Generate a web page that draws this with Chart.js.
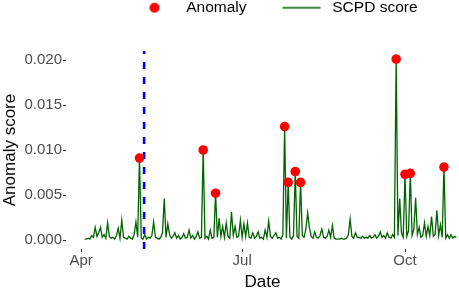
<!DOCTYPE html>
<html>
<head>
<meta charset="utf-8">
<script src="https://cdn.jsdelivr.net/npm/chart.js@4.4.1/dist/chart.umd.min.js"></script>
<style>
  html, body { margin: 0; padding: 0; background: #ffffff; }
  #wrap { width: 459px; height: 288px; position: relative; }
</style>
</head>
<body>
<div id="wrap"><canvas id="chart_anomalyScore"></canvas></div>
<script>
// days are counted from this date on the x axis
var origin = '2020-04-01';

// SCPD score, one value per day starting at scoreStart
var scoreStart = '2020-04-03';
var scoreValues = [
  0.0001, 0.0001, 0.0002, 0.0001, 0.0005, 0.0003, 0.0014, 0.0004, 0.0008, 0.0014,
  0.0003, 0.0006, 0.0002, 0.0019, 0.0004, 0.0002, 0.0003, 0.0001, 0.0005, 0.0013,
  0.0002, 0.0022, 0.0003, 0.0002, 0.0001, 0.0004, 0.0002, 0.0001, 0.0006, 0.0020,
  0.0003, 0.0091, 0.0002, 0.0001, 0.0006, 0.0001, 0.0003, 0.0002, 0.0005, 0.0020,
  0.0003, 0.0002, 0.0001, 0.0003, 0.0008, 0.0046, 0.0003, 0.0018, 0.0006, 0.0002,
  0.0004, 0.0008, 0.0002, 0.0005, 0.0001, 0.0003, 0.0007, 0.0002, 0.0003, 0.0011,
  0.0002, 0.0005, 0.0001, 0.0004, 0.0009, 0.0002, 0.0003, 0.0100, 0.0002, 0.0004,
  0.0001, 0.0011, 0.0002, 0.0003, 0.0052, 0.0003, 0.0024, 0.0004, 0.0015, 0.0003,
  0.0019, 0.0004, 0.0002, 0.0031, 0.0005, 0.0015, 0.0003, 0.0004, 0.0022, 0.0003,
  0.0018, 0.0004, 0.0019, 0.0003, 0.0002, 0.0008, 0.0002, 0.0004, 0.0009, 0.0002,
  0.0003, 0.0001, 0.0011, 0.0003, 0.0021, 0.0004, 0.0002, 0.0005, 0.0008, 0.0002,
  0.0003, 0.0001, 0.0006, 0.0126, 0.0002, 0.0064, 0.0003, 0.0001, 0.0005, 0.0076,
  0.0004, 0.0002, 0.0064, 0.0005, 0.0003, 0.0012, 0.0030, 0.0014, 0.0004, 0.0002,
  0.0009, 0.0003, 0.0002, 0.0005, 0.0012, 0.0003, 0.0002, 0.0004, 0.0011, 0.0003,
  0.0016, 0.0002, 0.0001, 0.0001, 0.0001, 0.0002, 0.0001, 0.0001, 0.0002, 0.0006,
  0.0023, 0.0004, 0.0002, 0.0008, 0.0003, 0.0003, 0.0002, 0.0004, 0.0002, 0.0003,
  0.0002, 0.0005, 0.0002, 0.0003, 0.0006, 0.0002, 0.0004, 0.0009, 0.0003, 0.0005,
  0.0002, 0.0008, 0.0003, 0.0002, 0.0006, 0.0003, 0.0201, 0.0005, 0.0046, 0.0008,
  0.0003, 0.0073, 0.0004, 0.0010, 0.0074, 0.0005, 0.0012, 0.0047, 0.0006, 0.0014,
  0.0003, 0.0005, 0.0019, 0.0004, 0.0015, 0.0005, 0.0026, 0.0004, 0.0006, 0.0033,
  0.0005, 0.0017, 0.0003, 0.0081, 0.0002, 0.0006, 0.0002, 0.0006, 0.0002, 0.0004,
  0.0003
];

// flagged anomalies
var anomalyDates = ['2020-05-04', '2020-06-09', '2020-06-16', '2020-07-25', '2020-07-27',
  '2020-07-31', '2020-08-03', '2020-09-26', '2020-10-01', '2020-10-04', '2020-10-23'];
var anomalyValues = [0.0091, 0.0100, 0.0052, 0.0126, 0.0064,
  0.0076, 0.0064, 0.0201, 0.0073, 0.0074, 0.0081];

// dashed cut-off line
var cutoffDate = '2020-05-06T15:00:00Z';

var tickDates = ['2020-04-01', '2020-07-01', '2020-10-01'];
var tickLabels = ['Apr', 'Jul', 'Oct'];
var yTicks = [0, 0.005, 0.010, 0.015, 0.020];
var xRange = [-8.5, 213.5];
var yRange = [-0.001, 0.021];

function dayOf(s) {
  return (Date.parse(s) - Date.parse(origin)) / 86400000;
}

var startDay = dayOf(scoreStart);
var scorePoints = scoreValues.map(function(v, i) { return {x: startDay + i, y: v}; });
var anomalyPoints = anomalyDates.map(function(d, i) { return {x: dayOf(d), y: anomalyValues[i]}; });
var cutoffPoints = [{x: dayOf(cutoffDate), y: yRange[0]}, {x: dayOf(cutoffDate), y: yRange[1]}];
var tickDays = tickDates.map(dayOf);

var FONT = '"Liberation Sans", Arial, sans-serif';

// legend keys: drawn off centre so the key sits where ggplot puts it
function legendIcon(kind) {
  var c = document.createElement('canvas');
  c.width = 80; c.height = 14;
  var g = c.getContext('2d');
  if (kind === 'dot') {
    g.fillStyle = '#ff0000';
    g.beginPath(); g.arc(40 + 15, 7, 5, 0, Math.PI * 2); g.fill();
  } else {
    g.strokeStyle = '#006400'; g.lineWidth = 1.3;
    g.beginPath(); g.moveTo(40 + 16 - 19, 7); g.lineTo(40 + 16 + 19, 7); g.stroke();
  }
  return c;
}
var dotIcon = legendIcon('dot');
var lineIcon = legendIcon('line');

var chart_anomalyScore = new Chart(document.getElementById('chart_anomalyScore'), {
  type: 'line',
  data: {
    datasets: [
      {
        type: 'scatter',
        label: 'Anomaly',
        data: anomalyPoints,
        pointRadius: 4.8,
        pointHoverRadius: 4.8,
        backgroundColor: '#ff0000',
        pointBorderWidth: 0,
        borderWidth: 0
      },
      {
        label: 'cutoff',
        data: cutoffPoints,
        borderColor: '#0000ff',
        borderWidth: 2.6,
        borderDash: [7, 8],
        pointRadius: 0
      },
      {
        label: 'SCPD score',
        data: scorePoints,
        borderColor: '#006400',
        borderWidth: 1.3,
        pointRadius: 0,
        tension: 0
      }
    ]
  },
  options: {
    animation: false,
    responsive: true,
    maintainAspectRatio: false,
    layout: { padding: 0, autoPadding: false },
    plugins: {
      tooltip: { enabled: false },
      legend: {
        position: 'top',
        align: 'center',
        fullSize: false,
        labels: {
          usePointStyle: true,
          pointStyleWidth: 78,
          padding: 0,
          color: '#000000',
          font: { family: FONT, size: 15.5, lineHeight: 1 },
          generateLabels: function(chart) {
            return [
              { text: 'Anomaly', pointStyle: dotIcon, datasetIndex: 0, hidden: false, lineWidth: 0 },
              { text: 'SCPD score', pointStyle: lineIcon, datasetIndex: 2, hidden: false, lineWidth: 0 }
            ];
          }
        }
      }
    },
    scales: {
      x: {
        type: 'linear',
        min: xRange[0],
        max: xRange[1],
        afterBuildTicks: function(s) { s.ticks = tickDays.map(function(v) { return {value: v}; }); },
        afterFit: function(s) { s.height = 39; },
        border: { display: false },
        grid: { drawOnChartArea: false, drawTicks: true, tickLength: 3, color: '#333333' },
        ticks: {
          padding: 0,
          autoSkip: false,
          maxRotation: 0,
          color: '#4d4d4d',
          font: { family: FONT, size: 15 },
          callback: function(value) { return tickLabels[tickDays.indexOf(value)]; }
        },
        title: {
          display: true,
          text: 'Date',
          color: '#000000',
          font: { family: FONT, size: 17, lineHeight: 1 },
          padding: { top: 0, bottom: -2.5 }
        }
      },
      y: {
        type: 'linear',
        min: yRange[0],
        max: yRange[1],
        afterBuildTicks: function(s) { s.ticks = yTicks.map(function(v) { return {value: v}; }); },
        afterFit: function(s) { s.width = 66; },
        border: { display: false },
        grid: { drawOnChartArea: false, drawTicks: true, tickLength: 3, color: '#333333' },
        ticks: {
          padding: 1,
          color: '#4d4d4d',
          font: { family: FONT, size: 15 },
          callback: function(value) { return value.toFixed(3); }
        },
        title: {
          display: true,
          text: 'Anomaly score',
          color: '#000000',
          font: { family: FONT, size: 17, lineHeight: 1 },
          padding: { top: 1.5, bottom: 0 }
        }
      }
    }
  },
  plugins: [{
    id: 'customPlugin',
    beforeLayout: function(chart) {
      // make room between the legend and the panel like the original
      var lg = chart.legend;
      if (lg && !lg._tallFit) {
        var fit = lg.fit;
        lg.fit = function() { fit.call(this); this.height = 51; };
        lg._tallFit = true;
      }
    },
    afterLayout: function(chart) {
      // ggplot centres the legend a little left of the panel centre
      if (chart.legend) {
        chart.legend.left -= 3.5;
        chart.legend.right -= 3.5;
      }
    },
    beforeDraw: function(chart) {
      var ctx = chart.canvas.getContext('2d');
      ctx.save();
      ctx.globalCompositeOperation = 'destination-over';
      ctx.fillStyle = 'white';
      ctx.fillRect(0, 0, chart.canvas.width, chart.canvas.height);
      ctx.restore();
    }
  }]
});
</script>
</body>
</html>
